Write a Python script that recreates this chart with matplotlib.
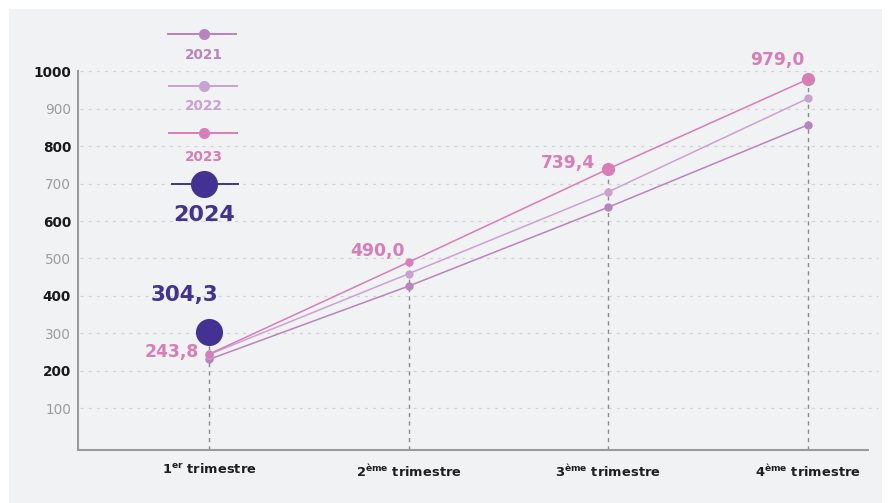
import matplotlib
matplotlib.use("Agg")
import matplotlib.pyplot as plt
from matplotlib.patches import Rectangle
from matplotlib.lines import Line2D

FAM = "DejaVu Sans"
plt.rcParams["font.family"] = [FAM]
plt.rcParams["mathtext.fontset"] = "custom"
plt.rcParams["mathtext.rm"] = FAM
plt.rcParams["mathtext.bf"] = FAM + ":bold"

# ---- data -------------------------------------------------------------
quarters = [r"$\mathbf{1^{er}}$ trimestre", r"$\mathbf{2^{ème}}$ trimestre",
            r"$\mathbf{3^{ème}}$ trimestre", r"$\mathbf{4^{ème}}$ trimestre"]
years = ["2021", "2022", "2023", "2024"]
v2021 = [230, 426, 637, 857]
v2022 = [243, 459, 678, 928]
v2023 = [243.8, 490.0, 739.4, 979.0]
v2024 = [304.3]
y_ticks = [100, 200, 300, 400, 500, 600, 700, 800, 900, 1000]

colors = {"2021": "#B784BE", "2022": "#C9A2CF", "2023": "#D87DB6", "2024": "#433293"}
BG = "#F1F2F4"
HEAVY = "bold"

W, H = 891, 503
fig = plt.figure(figsize=(W / 100, H / 100), dpi=100, facecolor="white")
fig.patches.append(Rectangle((9 / W, 0), 873 / W, 494 / H, transform=fig.transFigure,
                             facecolor=BG, edgecolor="none", zorder=-10))

ax = fig.add_axes([78 / W, (H - 450) / H, 790 / W, 379 / H])
ax.set_facecolor("none")
x = list(range(len(quarters)))
ax.set_xlim(-0.655, 3.30)
ax.set_ylim(-12, 1001)

# dotted horizontal grid
ax.hlines(y_ticks, -0.645, 3.35, colors="#D2D3D7", linewidth=0.9,
          linestyles=(0, (2.5, 4)), clip_on=False, zorder=0)

# dashed drop lines from the highest value of each quarter
tops = [max(v) for v in zip(v2021, v2022, v2023)]
tops[0] = max(tops[0], v2024[0])
ax.vlines(x, -12, tops, colors="#8A8A8A", linewidth=1.0,
          linestyles=(0, (3, 3)), zorder=1)

# series lines
for yr, vals, z in [("2021", v2021, 3), ("2022", v2022, 4), ("2023", v2023, 5)]:
    ax.plot(x, vals, color=colors[yr], linewidth=1.1, zorder=z,
            marker="o", markersize=6, markeredgewidth=0, clip_on=False)
# emphasised 2023 points
ax.plot(x[2:], v2023[2:], linestyle="none", marker="o", markersize=9.5,
        markeredgewidth=0, color=colors["2023"], zorder=6, clip_on=False)
# 2024 first quarter
ax.plot(x[:1], v2024, linestyle="none", marker="o", markersize=19.5,
        markeredgewidth=0, color=colors["2024"], zorder=7, clip_on=False)

# value labels
lab_kw = dict(textcoords="offset pixels", fontweight=HEAVY, va="center",
              annotation_clip=False)
fmt = lambda v: f"{v:.1f}".replace(".", ",")
ax.annotate(fmt(v2023[0]), (x[0], v2023[0]), xytext=(-10, 2), ha="right",
            color=colors["2023"], fontsize=12.3, **lab_kw)
ax.annotate(fmt(v2023[1]), (x[1], v2023[1]), xytext=(-31, 11), ha="center",
            color=colors["2023"], fontsize=12.3, **lab_kw)
ax.annotate(fmt(v2023[2]), (x[2], v2023[2]), xytext=(-40, 6), ha="center",
            color=colors["2023"], fontsize=12.3, **lab_kw)
ax.annotate(fmt(v2023[3]), (x[3], v2023[3]), xytext=(-31, 19), ha="center",
            color=colors["2023"], fontsize=12.3, **lab_kw)
ax.annotate(fmt(v2024[0]), (x[0], v2024[0]), xytext=(-24, 37), ha="center",
            color=colors["2024"], fontsize=15.5, **lab_kw)

# axes styling
for s in ["top", "right"]:
    ax.spines[s].set_visible(False)
for s in ["left", "bottom"]:
    ax.spines[s].set_color("#9A9A9A")
    ax.spines[s].set_linewidth(1.5)
ax.set_xticks(x)
ax.set_xticklabels(quarters, fontsize=9.4, fontweight=HEAVY, color="#1E1E1E")
ax.set_yticks(y_ticks)
ax.set_yticklabels([str(t) for t in y_ticks], fontsize=9.8)
for t, lab in zip(y_ticks, ax.get_yticklabels()):
    if t % 200 == 0:
        lab.set_fontweight(HEAVY)
        lab.set_color("#1A1A1A")
    else:
        lab.set_color("#9C9C9C")
ax.tick_params(axis="both", length=0)
ax.tick_params(axis="y", pad=5)
ax.tick_params(axis="x", pad=9)

# legend, laid out vertically in figure pixels
lg = fig.add_axes([0, 0, 1, 1])
lg.set_xlim(0, W)
lg.set_ylim(H, 0)
lg.axis("off")
legend_rows = [("2021", 34, 55, 168, 236, 8, 9.8),
               ("2022", 86, 106, 169, 237, 8, 9.8),
               ("2023", 133, 157, 169, 237, 8, 9.8),
               ("2024", 184, 215, 172, 238, 19.5, 16)]
for yr, ly, ty, x0, x1, ms, fs in legend_rows:
    lg.add_line(Line2D([x0, x1], [ly, ly], color=colors[yr], linewidth=1.4))
    lg.add_line(Line2D([203.5], [ly], marker="o", markersize=ms,
                       markeredgewidth=0, color=colors[yr]))
    lg.text(204, ty, yr, ha="center", va="center", fontsize=fs,
            fontweight=HEAVY, color=colors[yr])

fig.savefig("out.png", dpi=100, facecolor="white")
